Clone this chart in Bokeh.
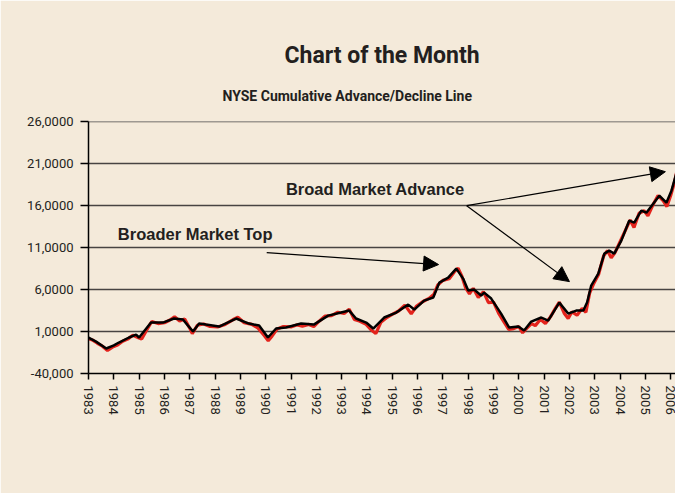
import math
from bokeh.plotting import figure
from bokeh.models import (Range1d, FixedTicker, Label, Arrow, NormalHead, Title)
from bokeh.embed import file_html
from bokeh.resources import INLINE

# ---------------- data ----------------
black_years = [1983.00, 1983.30, 1983.70, 1984.00, 1984.20, 1984.60, 1984.88, 1985.00,
               1985.47, 1985.94, 1986.38, 1986.73, 1986.93, 1987.13, 1987.37, 1987.64,
               1988.16, 1988.83, 1989.34, 1989.74, 1990.09, 1990.41, 1990.80, 1991.40,
               1991.90, 1992.47, 1992.98, 1993.30, 1993.57, 1993.97, 1994.25, 1994.68,
               1995.16, 1995.63, 1995.87, 1996.26, 1996.62, 1996.86, 1997.21, 1997.53,
               1997.80, 1998.00, 1998.24, 1998.51, 1998.63, 1998.91, 1999.30, 1999.62,
               1999.98, 2000.21, 2000.49, 2000.89, 2001.16, 2001.60, 2001.95, 2002.27,
               2002.55, 2002.70, 2002.86, 2003.14, 2003.38, 2003.57, 2003.77, 2004.05,
               2004.36, 2004.56, 2004.84, 2005.04, 2005.31, 2005.55, 2005.83, 2006.03,
               2006.22]
black_values = [2900, -2000, -10200, -6500, -3100, 2900, 6400, 2900,
                20700, 20700, 25500, 24300, 17100, 10000, 19500, 18300,
                16000, 25500, 19500, 17100, 2900, 13600, 14800, 19500,
                18300, 29000, 32600, 35000, 25500, 20700, 13600, 26700,
                32600, 42100, 36200, 46900, 50500, 68300, 74300, 85000,
                73100, 58800, 60000, 52900, 56400, 49300, 31400, 14800,
                16000, 11200, 21900, 26700, 23100, 44500, 31400, 35000,
                35000, 45000, 64800, 79000, 102900, 106400, 102900, 118300,
                142100, 139800, 154000, 151700, 162400, 171900, 163600, 177900,
                198100]

red_years = [1983.00, 1983.15, 1983.35, 1983.55, 1983.75, 1983.95, 1984.15, 1984.35,
             1984.55, 1984.75, 1984.95, 1985.10, 1985.30, 1985.50, 1985.75, 1986.00,
             1986.20, 1986.40, 1986.60, 1986.80, 1987.00, 1987.10, 1987.30, 1987.55,
             1987.80, 1988.10, 1988.40, 1988.70, 1988.90, 1989.15, 1989.45, 1989.70,
             1989.95, 1990.10, 1990.25, 1990.45, 1990.70, 1991.00, 1991.25, 1991.45,
             1991.70, 1991.90, 1992.10, 1992.35, 1992.60, 1992.85, 1993.10, 1993.30,
             1993.50, 1993.70, 1993.95, 1994.15, 1994.35, 1994.55, 1994.80, 1995.00,
             1995.25, 1995.50, 1995.75, 1995.95, 1996.20, 1996.45, 1996.65, 1996.80,
             1997.00, 1997.25, 1997.45, 1997.60, 1997.75, 1997.90, 1998.05, 1998.20,
             1998.40, 1998.60, 1998.80, 1999.00, 1999.20, 1999.40, 1999.60, 1999.80,
             2000.00, 2000.15, 2000.30, 2000.50, 2000.65, 2000.85, 2001.05, 2001.25,
             2001.45, 2001.60, 2001.80, 2001.95, 2002.10, 2002.30, 2002.50, 2002.65,
             2002.80, 2002.95, 2003.15, 2003.35, 2003.50, 2003.65, 2003.80, 2004.00,
             2004.20, 2004.40, 2004.55, 2004.75, 2004.95, 2005.10, 2005.30, 2005.50,
             2005.70, 2005.85, 2006.00, 2006.15, 2006.25]
red_values = [1500, 0, -4000, -7500, -12500, -8500, -6000, -1500,
              1000, 5500, 3000, 1000, 12000, 22000, 19500, 20500,
              23500, 27500, 22500, 25000, 14000, 7500, 17500, 19000,
              16000, 15500, 18500, 24000, 27000, 20500, 18500, 14000,
              5000, -1000, 4500, 13000, 16000, 15500, 18000, 16500,
              18500, 16000, 22000, 28500, 29000, 33000, 31500, 36500,
              24500, 22500, 19000, 12500, 7500, 21000, 27000, 30500,
              34500, 41500, 31000, 40000, 45500, 49500, 54500, 65500,
              71000, 73000, 81000, 85500, 76000, 62000, 55000, 61500,
              50500, 57500, 44500, 45000, 32000, 22000, 12500, 13500,
              16000, 8500, 13500, 19500, 17000, 24500, 19500, 27500,
              38000, 45000, 31500, 25500, 33500, 29500, 37500, 33000,
              56000, 66500, 78000, 100000, 106500, 98000, 104000, 117000,
              130000, 143000, 134000, 151000, 154000, 148000, 161000, 172000,
              166000, 159000, 172000, 188000, 202000]

y_ticks = [-40000, 10000, 60000, 110000, 160000, 210000, 260000]
y_tick_labels = ["-40,000", "1,0000", "6,0000", "11,0000", "16,0000", "21,0000", "26,0000"]
x_ticks = list(range(1983, 2007))
x_tick_labels = [str(y) for y in x_ticks]

title_text = "Chart of the Month"
subtitle_text = "NYSE Cumulative Advance/Decline Line"

BG = "#F4EADA"
INK = "#231F20"

p = figure(width=675, height=493, output_backend="svg", toolbar_location=None,
           x_range=Range1d(1983, 2006.19), y_range=Range1d(-40000, 260300),
           min_border_left=88, min_border_right=0, min_border_top=121,
           min_border_bottom=120)
p.background_fill_color = BG
p.border_fill_color = BG
p.outline_line_color = None

# titles
p.add_layout(Title(text=subtitle_text, align="left", offset=134, standoff=35,
                   text_font="Roboto", text_font_size="14px", text_font_style="bold",
                   text_color=INK), "above")
p.add_layout(Title(text=title_text, align="left", offset=196, standoff=0,
                   text_font="Roboto", text_font_size="23px", text_font_style="bold",
                   text_color=INK), "above")

# axes
p.yaxis.ticker = FixedTicker(ticks=y_ticks)
p.yaxis.major_label_overrides = {t: l for t, l in zip(y_ticks, y_tick_labels)}
p.xaxis.ticker = FixedTicker(ticks=x_ticks)
p.xaxis.major_label_overrides = {t: l for t, l in zip(x_ticks, x_tick_labels)}
p.xaxis.major_label_orientation = -math.pi / 2
for ax in (p.xaxis, p.yaxis):
    ax.axis_line_color = "black"
    ax.axis_line_width = 1.5
    ax.major_tick_line_color = "black"
    ax.major_tick_line_width = 1.5
    ax.major_tick_in = 0
    ax.minor_tick_line_color = None
    ax.major_label_text_font = "Roboto"
    ax.major_label_text_font_size = "13px"
    ax.major_label_text_color = INK
p.yaxis.major_tick_out = 8
p.yaxis.major_label_standoff = 7
p.xaxis.major_tick_out = 6
p.xaxis.major_label_standoff = 6

p.xgrid.grid_line_color = None
p.ygrid.grid_line_color = "#474442"
p.ygrid.grid_line_width = 1.5

# series
p.line(red_years, red_values, line_color="#E3231C", line_width=3.2)
p.line(black_years, black_values, line_color="black", line_width=2.5)

# annotations
lab_font = "Liberation Sans"
p.add_layout(Label(x=1990.8, y=180200, text="Broad Market Advance", text_font=lab_font,
                   text_font_size="16.5px", text_font_style="bold", text_color=INK,
                   text_baseline="middle"))
p.add_layout(Label(x=1984.16, y=126700, text="Broader Market Top", text_font=lab_font,
                   text_font_size="16.5px", text_font_style="bold", text_color=INK,
                   text_baseline="middle"))

def head():
    return NormalHead(size=15, fill_color="black", line_color="black")

p.add_layout(Arrow(end=head(), x_start=1990.04, y_start=104000, x_end=1996.83, y_end=89800,
                   line_color="black", line_width=1.2))
p.add_layout(Arrow(end=head(), x_start=1997.94, y_start=160000, x_end=2005.79, y_end=200500,
                   line_color="black", line_width=1.2))
p.add_layout(Arrow(end=head(), x_start=1997.94, y_start=160000, x_end=2002.0, y_end=69500,
                   line_color="black", line_width=1.2))

open("out.html", "w").write(file_html(p, INLINE))
